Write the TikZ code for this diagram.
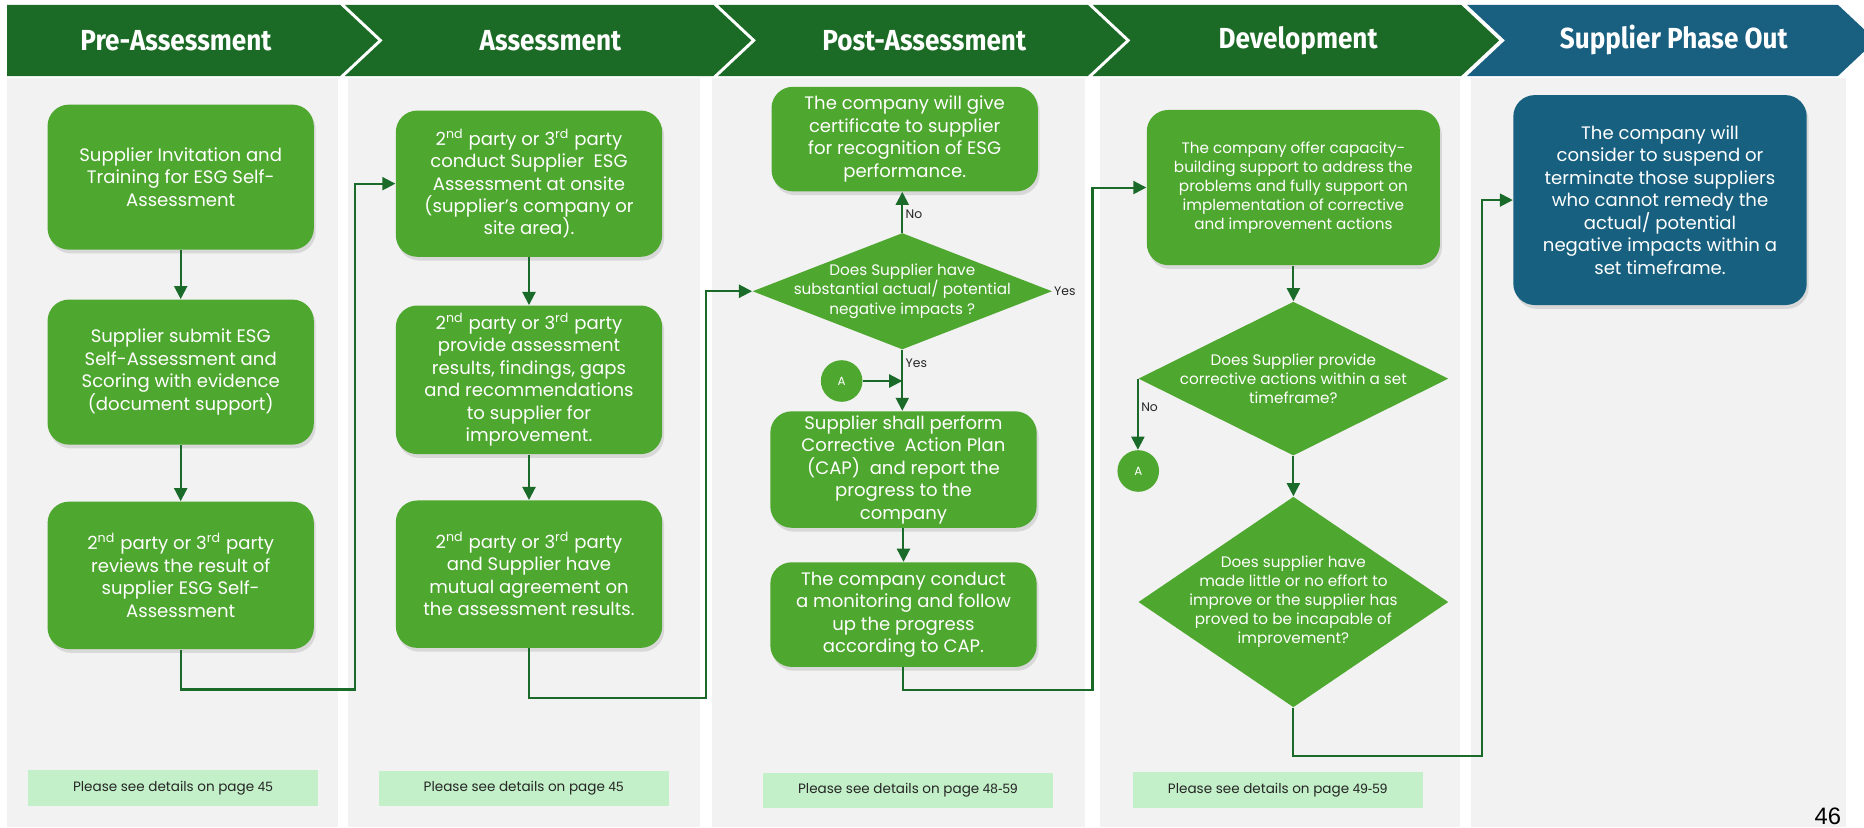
\documentclass[tikz,border=0pt]{standalone}
\usepackage{fontspec}
\setmainfont{Poppins}
\newfontfamily\headfont[FakeStretch=0.9]{Fira Sans}
\newfontfamily\pagefont{Liberation Sans}
\usetikzlibrary{positioning,arrows.meta,shapes.geometric,shadows}

\definecolor{headgreen}{HTML}{1B6B26}
\definecolor{headblue}{HTML}{185F80}
\definecolor{boxgreen}{HTML}{4EA72E}
\definecolor{boxblue}{HTML}{17607F}
\definecolor{linegreen}{HTML}{1A6B2A}
\definecolor{notegreen}{HTML}{C3F0C8}
\definecolor{panelgray}{HTML}{F2F2F2}
\definecolor{notetext}{HTML}{262626}

\tikzset{
  stepbox/.style={rectangle, rounded corners=9pt, fill=boxgreen, text=white,
    align=center, inner sep=0pt, minimum width=112pt,
    font=\fontsize{7.6}{9.45}\selectfont,
    drop shadow={shadow xshift=0.8pt, shadow yshift=-1.6pt, opacity=0.22}},
  decision/.style={diamond, fill=boxgreen, inner sep=0pt},
  decisiontext/.style={text=white, align=center, inner sep=0pt,
    font=\fontsize{6.4}{8}\selectfont},
  joint/.style={circle, fill=boxgreen, text=white, inner sep=0pt,
    minimum size=17.5pt, font=\fontsize{5}{6}\selectfont},
  notebox/.style={rectangle, fill=notegreen, text=notetext, inner sep=0pt,
    minimum width=122pt, minimum height=15pt, font=\fontsize{5.7}{7}\selectfont},
  headtitle/.style={text=white, inner sep=0pt,
    font=\headfont\bfseries\fontsize{12.2}{14}\selectfont},
  flow/.style={draw=linegreen, line width=0.85pt, -{Triangle[length=5.5pt,width=5.5pt]}},
  answer/.style={text=notetext, inner sep=1pt, font=\fontsize{5.2}{6}\selectfont},
}

\begin{document}
\begin{tikzpicture}[x=0.5pt,y=-0.5pt]
   \useasboundingbox (0,0) rectangle (1568,696);
   \fill[white] (0,0) rectangle (1568,696);

   % column panels
   \foreach \l/\r in {6/284, 293/589, 599/913, 925/1228, 1237/1553}
      \fill[panelgray] (\l,66) rectangle (\r,696);

   % header chevrons
   \foreach \l/\r/\n/\c/\t [count=\i] in {6/286/0/headgreen/Pre-Assessment,
         290/600/32/headgreen/Assessment, 604/915/32/headgreen/Post-Assessment,
         919/1229/32/headgreen/Development, 1234/1546/32/headblue/Supplier Phase Out}
   {
      \fill[\c] (\l,4) -- (\r,4) -- (\r+32,34) -- (\r,64) -- (\l,64) -- (\l+\n,34) -- cycle;
      \node[headtitle] (head\i) at ({(\l+\n+\r)/2+2},34) {\t};
   }

   % pre-assessment
   \node[stepbox, minimum height=61pt] (pre1) at (152,149)
      {Supplier Invitation and\\Training for ESG Self-\\Assessment};
   \node[stepbox, minimum height=61pt] (pre2) at (152,313)
      {Supplier submit ESG\\Self-Assessment and\\Scoring with evidence\\(document support)};
   \node[stepbox, minimum height=62pt] (pre3) at (152,484)
      {2\textsuperscript{nd} party or 3\textsuperscript{rd} party\\reviews the result of\\supplier ESG Self-\\Assessment};

   % assessment
   \node[stepbox, minimum height=61.5pt] (ass1) at (445,154.5)
      {2\textsuperscript{nd} party or 3\textsuperscript{rd} party\\conduct Supplier\ \ ESG\\Assessment at onsite\\(supplier's company or\\site area).};
   \node[stepbox, minimum height=62.5pt] (ass2) at (445,319.5)
      {2\textsuperscript{nd} party or 3\textsuperscript{rd} party\\provide assessment\\results, findings, gaps\\and recommendations\\to supplier for\\improvement.};
   \node[stepbox, minimum height=62pt] (ass3) at (445,483)
      {2\textsuperscript{nd} party or 3\textsuperscript{rd} party\\and Supplier have\\mutual agreement on\\the assessment results.};

   % post-assessment
   \node[stepbox, minimum height=44pt] (post1) at (761,117)
      {The company will give\\certificate to supplier\\for recognition of ESG\\performance.};
   \node[decision, minimum width=126pt, minimum height=49pt] (postq) at (759,245) {};
   \node[decisiontext] (postqt) at (postq.center)
      {Does Supplier have\\substantial actual/ potential\\negative impacts ?};
   \node[joint] (postA) at (708,320.5) {A};
   \node[stepbox, minimum height=49pt] (post2) at (760,395)
      {Supplier shall perform\\Corrective\ \ Action Plan\\(CAP)\ \ and report the\\progress to the\\company};
   \node[stepbox, minimum height=44pt] (post3) at (760,517)
      {The company conduct\\a monitoring and follow\\up the progress\\according to CAP.};

   % development
   \node[stepbox, minimum width=123.3pt, minimum height=65.25pt,
         font=\fontsize{6.4}{8}\selectfont] (dev1) at (1088,157.75)
      {The company offer capacity-\\building support to address the\\problems and fully support on\\implementation of corrective\\and improvement actions};
   \node[decision, minimum width=130.4pt, minimum height=64.75pt] (devq1) at (1088,318.5) {};
   \node[decisiontext] (devq1t) at (devq1.center)
      {Does Supplier provide\\corrective actions within a set\\timeframe?};
   \node[joint] (devA) at (957.5,396.2) {A};
   \node[decision, minimum width=130.4pt, minimum height=88.6pt] (devq2) at (1088,506.4) {};
   \node[decisiontext] (devq2t) at (devq2.center)
      {Does supplier have\\made little or no effort to\\improve or the supplier has\\proved to be incapable of\\improvement?};

   % phase out
   \node[stepbox, fill=boxblue, minimum width=123.4pt, minimum height=88.3pt] (out1) at (1396.4,168.3)
      {The company will\\consider to suspend or\\terminate those suppliers\\who cannot remedy the\\actual/ potential\\negative impacts within a\\set timeframe.};

   % notes
   \node[notebox] (note1) at (145.5,662.7) {Please see details on page {\pagefont 45}};
   \node[notebox] (note2) at (440.5,663.3) {Please see details on page {\pagefont 45}};
   \node[notebox] (note3) at (763.7,665) {Please see details on page {\pagefont 48-59}};
   \node[notebox] (note4) at (1074.8,664.3) {Please see details on page {\pagefont 49-59}};

   \node[text=black, inner sep=0pt, anchor=north west, font=\pagefont\fontsize{10}{12}\selectfont]
      (pagenum) at (1526,679) {46};

   % bend points
   \coordinate (bend1) at (298.5,580);
   \coordinate (bend2) at (594,587.4);
   \coordinate (bend3) at (919,580.4);
   \coordinate (bend4) at (1247,635.7);

   % connectors
   \draw[flow] (pre1) -- (pre2);
   \draw[flow] (pre2) -- (pre3);
   \draw[flow] (pre3.south) |- (bend1) |- (ass1.west);
   \draw[flow] (ass1) -- (ass2);
   \draw[flow] (ass2) -- (ass3);
   \draw[flow] (ass3.south) |- (bend2) |- (postq.west);
   \draw[flow] (postq.north) -- node[answer, right, pos=0.45] {No} (postq.north |- post1.south);
   \draw[flow] (postq.south) -- node[answer, right, pos=0.22] {Yes} (postq.south |- post2.north);
   \node[answer, anchor=west, inner sep=0.5pt] (postyes) at (postq.east) {Yes};
   \draw[flow] (postA.east) -- (postA.east -| postq.south);
   \draw[flow] (post2) -- (post3);
   \draw[flow] (post3.south) |- (bend3) |- (dev1.west);
   \draw[flow] (dev1.south) -- (devq1.north);
   \draw[flow] (devq1.west) -- node[answer, right, pos=0.4] {No} (devq1.west |- devA.north);
   \draw[flow] (devq1.south) -- (devq2.north);
   \draw[flow] (devq2.south) |- (bend4) |- (out1.west);
\end{tikzpicture}
\end{document}
